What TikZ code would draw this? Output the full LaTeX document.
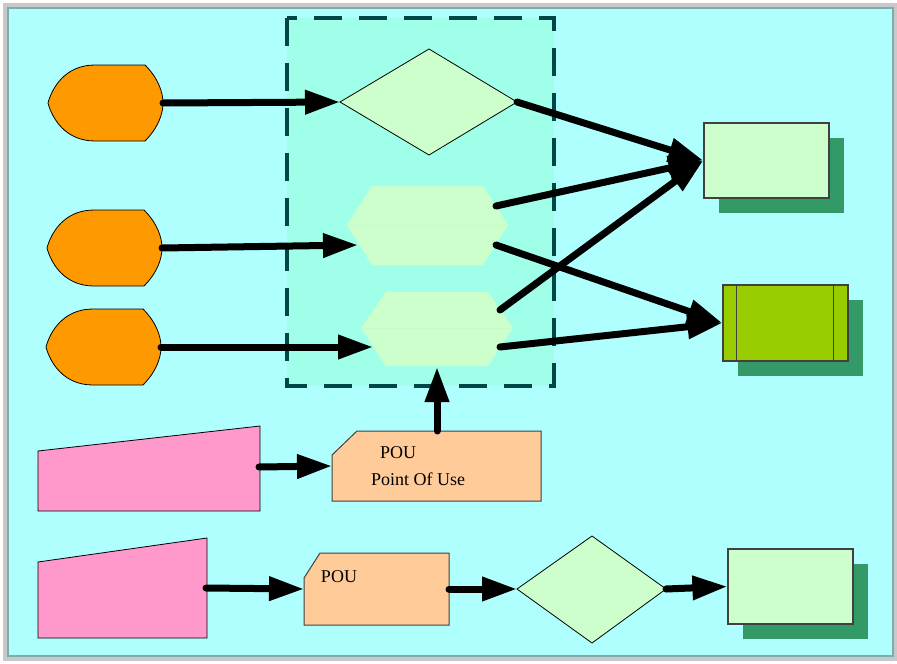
\documentclass[tikz,border=0pt]{standalone}
\usepackage{fontspec}
\setmainfont{Liberation Serif}
\usetikzlibrary{arrows.meta,shadows}
\definecolor{bgcyan}{HTML}{B0FFFF}
\definecolor{bordteal}{HTML}{78AEAE}
\definecolor{outgray}{HTML}{C8C8C8}
\definecolor{grpfill}{HTML}{A0FFE8}
\definecolor{grpdash}{HTML}{004646}
\definecolor{orangec}{HTML}{FF9900}
\definecolor{lgreen}{HTML}{CCFFCC}
\definecolor{hexline}{HTML}{C6FAC6}
\definecolor{dgreen}{HTML}{99CC00}
\definecolor{shadowg}{HTML}{339966}
\definecolor{pinkc}{HTML}{FF99CC}
\definecolor{peach}{HTML}{FFCC99}
\definecolor{rectline}{HTML}{404040}
\tikzset{
  flow/.style={line width=7pt, line cap=round, -{Triangle[length=35pt,width=23pt]}},
  thinout/.style={draw=black, line width=0.8pt},
  rectbox/.style={draw=rectline, line width=1.2pt, minimum width=125pt, minimum height=75pt, inner sep=0pt,
    drop shadow={shadow xshift=15pt, shadow yshift=-15pt, fill=shadowg, opacity=1}},
  lbl/.style={font=\fontsize{18}{20}\selectfont, inner sep=0pt},
  orangeshape/.pic={
    \path[thinout, fill=orangec] (0,0) .. controls (4,-15) and (17,-38) .. (47,-38) -- (97,-38)
      .. controls (110,-25) and (115,-11) .. (115,0) .. controls (115,11) and (110,25) .. (97,38)
      -- (47,38) .. controls (17,38) and (4,15) .. (0,0) -- cycle;
    \coordinate (-out) at (115,0);
  }
}
\begin{document}
\begin{tikzpicture}[x=1pt,y=-1pt]
\useasboundingbox (0,0) rectangle (897,664);
% frame
\fill[outgray] (3,3) rectangle (897,661);
\path[fill=bgcyan, draw=bordteal, line width=2.5pt] (8,8) rectangle (893,656);
% dashed group
\path[fill=grpfill, draw=grpdash, line width=3.5pt, dash pattern=on 28pt off 17pt] (287,18) rectangle (554,386);
% orange shapes
\pic (o1) at (48,103) {orangeshape};
\pic (o2) at (47,248) {orangeshape};
\pic (o3) at (46,347) {orangeshape};
% diamond 1
\path[thinout, fill=lgreen] (340,102) -- (429,49) -- (517,102) -- (429,155) -- cycle;
\coordinate (d1-in) at (340,102);
\coordinate (d1-out) at (517,102);
% hexagon 1
\fill[lgreen] (347,225) -- (372,186) -- (483,186) -- (508,225) -- (483,265) -- (372,265) -- cycle;
\draw[hexline, line width=0.8pt] (347,225) -- (508,225);
\coordinate (h1-in) at (358,245);
\coordinate (h1-o1) at (496,206);
\coordinate (h1-o2) at (496,245);
% hexagon 2
\fill[lgreen] (361,328) -- (386,292) -- (488,292) -- (513,328) -- (488,366) -- (386,366) -- cycle;
\draw[hexline, line width=0.8pt] (361,328) -- (513,328);
\coordinate (h2-in) at (373,347);
\coordinate (h2-o1) at (500,310);
\coordinate (h2-o2) at (500,347);
\coordinate (h2-bot) at (437,367);
% right rectangles
\node[rectbox, fill=lgreen] (r1) at (766.5,160.5) {};
\node[rectbox, fill=dgreen, minimum height=76pt] (r2) at (785.5,323) {};
\draw[rectline, line width=1.2pt] ([xshift=14pt]r2.north west) -- ([xshift=14pt]r2.south west);
\draw[rectline, line width=1.2pt] ([xshift=-15pt]r2.north east) -- ([xshift=-15pt]r2.south east);
% pink 1 and POU 1
\path[thinout, fill=pinkc] (38,451) -- (260,426) -- (260,511) -- (38,511) -- cycle;
\coordinate (p1-out) at (259,467);
\path[draw=rectline, line width=1pt, fill=peach] (332,455) -- (357,431) -- (541,431) -- (541,501) -- (332,501) -- cycle;
\coordinate (u1-in) at (332,466);
\coordinate (u1-top) at (437,431);
\node[lbl] (u1a) at (398,453) {POU};
\node[lbl] (u1b) at (418,479) {Point Of Use};
% bottom row
\path[thinout, fill=pinkc] (38,562) -- (207,538) -- (207,638) -- (38,638) -- cycle;
\coordinate (p2-out) at (206,588);
\path[draw=rectline, line width=1pt, fill=peach] (304,578) -- (320,553) -- (449,553) -- (449,625) -- (304,625) -- cycle;
\coordinate (u2-in) at (304,589);
\coordinate (u2-out) at (449,589);
\node[lbl] (u2a) at (339,577) {POU};
\path[thinout, fill=lgreen] (517,589) -- (592,536) -- (666,589) -- (592,643) -- cycle;
\coordinate (d2-in) at (517,589);
\coordinate (d2-out) at (666,589);
\node[rectbox, fill=lgreen] (r3) at (790.5,586.5) {};
% connectors
\draw[flow] (o1-out) -- (d1-in);
\draw[flow] (o2-out) -- (h1-in);
\draw[flow] (o3-out) -- (h2-in);
\draw[flow] (d1-out) -- (r1.west);
\draw[flow] (h1-o1) -- (r1.west);
\draw[flow] (h2-o1) -- (r1.west);
\draw[flow] (h1-o2) -- (r2.west);
\draw[flow] (h2-o2) -- (r2.west);
\draw[flow] (p1-out) -- (u1-in);
\draw[flow] (u1-top) -- (h2-bot);
\draw[flow] (p2-out) -- (u2-in);
\draw[flow] (u2-out) -- (d2-in);
\draw[flow] (d2-out) -- (r3.west);
\end{tikzpicture}
\end{document}
